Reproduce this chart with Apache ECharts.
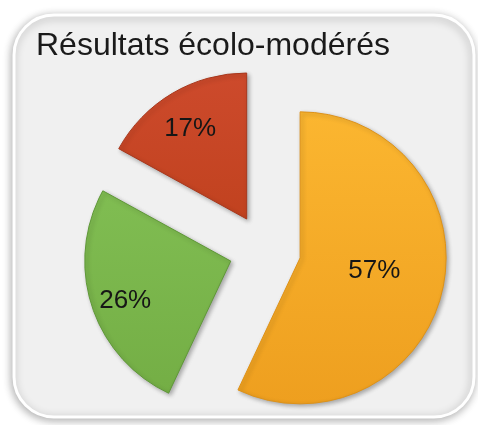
<!DOCTYPE html>
<html>
<head>
<meta charset="utf-8">
<script src="https://cdn.jsdelivr.net/npm/echarts@6/dist/echarts.min.js"></script>
<style>
  html, body { margin: 0; padding: 0; background: #fff; }
  #chart { width: 478px; height: 425px; }
</style>
</head>
<body>
<div id="chart"></div>
<script>
const categories = ['Orange', 'Vert', 'Rouge']
const values = [57, 26, 17]
const colors = [
  ['#fbb630', '#ee9f1f'],
  ['#80bd52', '#74ae45'],
  ['#cd4a2c', '#c1421f']
]
const borders = ['#de9218', '#5f9838', '#a8381d']
// small slices carry their labels further out than the big one
const farLabel = [false, true, true]

const chart = echarts.init(document.getElementById('chart'))

function fillFor (i) {
  return new echarts.graphic.LinearGradient(0, 0, 0, 1, [
    { offset: 0, color: colors[i][0] },
    { offset: 1, color: colors[i][1] }
  ])
}

const pieData = categories.map((name, i) => ({
  name: name,
  value: values[i],
  selected: true,
  itemStyle: { color: fillFor(i), borderColor: borders[i] },
  label: { show: !farLabel[i] }
}))

const labelData = categories.map((name, i) => ({
  name: name,
  value: values[i],
  selected: true,
  label: { show: farLabel[i] }
}))

const labelStyle = {
  position: 'inside',
  formatter: '{d}%',
  fontFamily: 'Liberation Sans',
  fontSize: 26,
  color: '#161616'
}

const option = {
  animation: false,
  backgroundColor: '#ffffff',
  graphic: [
    {
      type: 'rect',
      z: -10,
      shape: { x: 14, y: 15, width: 460, height: 402, r: 40 },
      style: {
        fill: '#f0f0f0',
        stroke: '#ffffff',
        lineWidth: 3,
        shadowBlur: 8,
        shadowOffsetX: -1,
        shadowOffsetY: 2,
        shadowColor: 'rgba(0, 0, 0, 0.3)'
      }
    }
  ],
  title: {
    text: 'Résultats écolo-modérés',
    left: 31,
    top: 25,
    textStyle: {
      fontFamily: 'Liberation Sans',
      fontWeight: 'normal',
      fontSize: 32,
      color: '#1a1a1a'
    }
  },
  series: [
    {
      type: 'pie',
      center: [265, 250],
      radius: [0, 146],
      startAngle: 90,
      clockwise: true,
      selectedMode: 'multiple',
      selectedOffset: 36,
      silent: true,
      itemStyle: {
        borderWidth: 1,
        shadowBlur: 4,
        shadowOffsetX: 2,
        shadowOffsetY: 2,
        shadowColor: 'rgba(0, 0, 0, 0.3)'
      },
      label: labelStyle,
      labelLine: { show: false },
      labelLayout: { dy: -4 },
      data: pieData
    },
    {
      type: 'pie',
      center: [265, 250],
      radius: [0, 216],
      startAngle: 90,
      clockwise: true,
      selectedMode: 'multiple',
      selectedOffset: 36,
      silent: true,
      itemStyle: { color: 'rgba(0,0,0,0)' },
      label: labelStyle,
      labelLine: { show: false },
      labelLayout: { dy: 5 },
      data: labelData
    }
  ]
}

chart.setOption(option)
</script>
</body>
</html>
